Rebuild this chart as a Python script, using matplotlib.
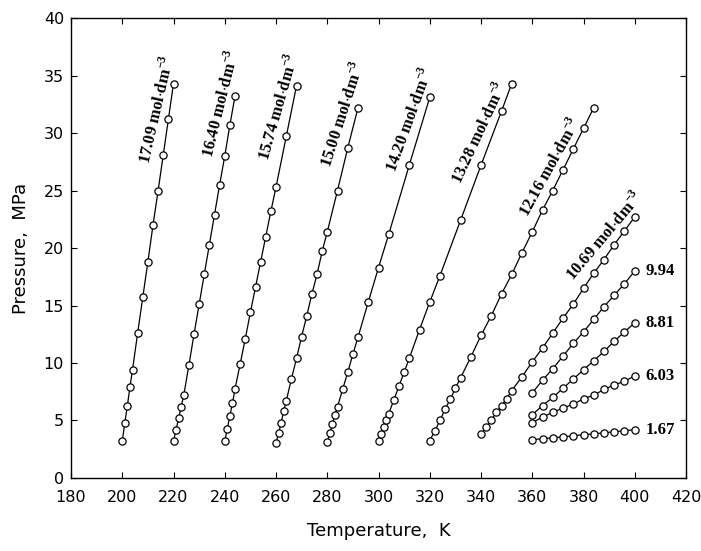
import numpy as np
import matplotlib
matplotlib.use('Agg')
import matplotlib.pyplot as plt

# isochores, T in K, P in MPa
T_1709 = [200, 201, 202, 203, 204, 206, 208, 210, 212, 214, 216, 218, 220]
P_1709 = [3.2, 4.8, 6.3, 7.9, 9.4, 12.6, 15.7, 18.8, 22.0, 25.0, 28.1, 31.2, 34.3]

T_1640 = [220, 221, 222, 223, 224, 226, 228, 230, 232, 234, 236, 238, 240, 242, 244]
P_1640 = [3.2, 4.2, 5.2, 6.2, 7.2, 9.8, 12.5, 15.1, 17.7, 20.3, 22.9, 25.5, 28.0, 30.7, 33.2]

T_1574 = [240, 241, 242, 243, 244, 246, 248, 250, 252, 254, 256, 258, 260, 264, 268]
P_1574 = [3.2, 4.3, 5.4, 6.5, 7.75, 9.9, 12.1, 14.4, 16.6, 18.8, 21.0, 23.2, 25.3, 29.7, 34.1]

T_1500 = [260, 261, 262, 263, 264, 266, 268, 270, 272, 274, 276, 278, 280, 284, 288, 292]
P_1500 = [3.0, 3.9, 4.8, 5.8, 6.7, 8.6, 10.4, 12.3, 14.1, 16.0, 17.7, 19.7, 21.4, 25.0, 28.7, 32.2]

T_1420 = [280, 281, 282, 283, 284, 286, 288, 290, 292, 296, 300, 304, 312, 320]
P_1420 = [3.1, 3.9, 4.7, 5.5, 6.2, 7.7, 9.2, 10.75, 12.25, 15.3, 18.3, 21.2, 27.2, 33.1]

T_1328 = [300, 301, 302, 303, 304, 306, 308, 310, 312, 316, 320, 324, 332, 340, 348, 352]
P_1328 = [3.2, 3.8, 4.4, 5.0, 5.6, 6.8, 8.0, 9.2, 10.4, 12.9, 15.3, 17.6, 22.4, 27.2, 31.9, 34.3]

T_1216 = [320, 322, 324, 326, 328, 330, 332, 336, 340, 344, 348, 352, 356, 360,
          364, 368, 372, 376, 380, 384]
P_1216 = [3.25, 4.1, 5.0, 6.0, 6.85, 7.8, 8.7, 10.5, 12.4, 14.1, 16.0, 17.7, 19.6, 21.4,
          23.3, 25.0, 26.8, 28.6, 30.4, 32.2]

T_1069 = [340, 342, 344, 346, 348, 350, 352, 356, 360, 364, 368, 372, 376, 380,
          384, 388, 392, 396, 400]
P_1069 = [3.8, 4.4, 5.0, 5.7, 6.3, 6.9, 7.6, 8.8, 10.1, 11.3, 12.6, 13.9, 15.1, 16.5,
          17.8, 19.0, 20.3, 21.5, 22.7]

T_low = [360, 364, 368, 372, 376, 380, 384, 388, 392, 396, 400]
P_994 = [7.4, 8.5, 9.5, 10.6, 11.7, 12.7, 13.8, 14.9, 15.9, 16.9, 18.0]
P_881 = [5.5, 6.3, 7.0, 7.8, 8.6, 9.4, 10.2, 11.0, 11.9, 12.7, 13.5]
P_603 = [4.8, 5.3, 5.7, 6.1, 6.4, 6.9, 7.2, 7.7, 8.1, 8.4, 8.9]
P_167 = [3.34, 3.41, 3.5, 3.58, 3.67, 3.76, 3.84, 3.93, 4.02, 4.11, 4.2]

long_names = ['17.09', '16.40', '15.74', '15.00', '14.20', '13.28', '12.16', '10.69']
long_T = [T_1709, T_1640, T_1574, T_1500, T_1420, T_1328, T_1216, T_1069]
long_P = [P_1709, P_1640, P_1574, P_1500, P_1420, P_1328, P_1216, P_1069]
short_names = ['9.94', '8.81', '6.03', '1.67']
short_P = [P_994, P_881, P_603, P_167]

# where the slanted labels sit (pressure of label centre) and their angle
lab_P = [31.8, 32.3, 32.0, 31.3, 30.8, 29.5, 26.5, 20.3]
lab_rot = [77, 76, 74, 72, 70, 65, 61, 50]

plt.rcParams['mathtext.fontset'] = 'custom'
plt.rcParams['mathtext.rm'] = 'Liberation Serif'
plt.rcParams['mathtext.bf'] = 'Liberation Serif:bold'

fig = plt.figure(figsize=(7.01, 5.51), dpi=100)
ax = fig.add_axes([0.1013, 0.1325, 0.8773, 0.8348])

mk = dict(marker='o', ms=5.2, mfc='white', mec='black', mew=0.9,
          color='black', lw=0.9)

for T, P in zip(long_T, long_P):
    ax.plot(T, P, **mk)
for P in short_P:
    ax.plot(T_low, P, **mk)

serif = dict(family='Liberation Serif', weight='bold', size=12)

for name, T, P, pc, rot in zip(long_names, long_T, long_P, lab_P, lab_rot):
    tc = np.interp(pc, P, T)
    a = np.radians(rot)
    off = 9.5
    ax.annotate(name + r' mol$\cdot$dm$^{\mathbf{-3}}$', (tc, pc),
                xytext=(-off * np.sin(a), off * np.cos(a)),
                textcoords='offset points', rotation=rot,
                rotation_mode='anchor', ha='center', va='center',
                **serif)

for name, P in zip(short_names, short_P):
    ax.annotate(name, (T_low[-1], P[-1]), xytext=(7.5, 0),
                textcoords='offset points', ha='left', va='center', **serif)

ax.set_xlim(180, 420)
ax.set_ylim(0, 40)
ax.set_xticks(np.arange(180, 421, 20))
ax.set_yticks(np.arange(0, 41, 5))
ax.tick_params(direction='in', length=4.5, width=0.8, top=True, right=True,
               labelsize=11.5, pad=5)
ax.tick_params(axis='x', pad=9)
for s in ax.spines.values():
    s.set_linewidth(1.0)

ax.set_xlabel('Temperature,  K', fontsize=13, labelpad=12)
ax.set_ylabel('Pressure,  MPa', fontsize=13, labelpad=10)

fig.savefig('out.png', dpi=100)
